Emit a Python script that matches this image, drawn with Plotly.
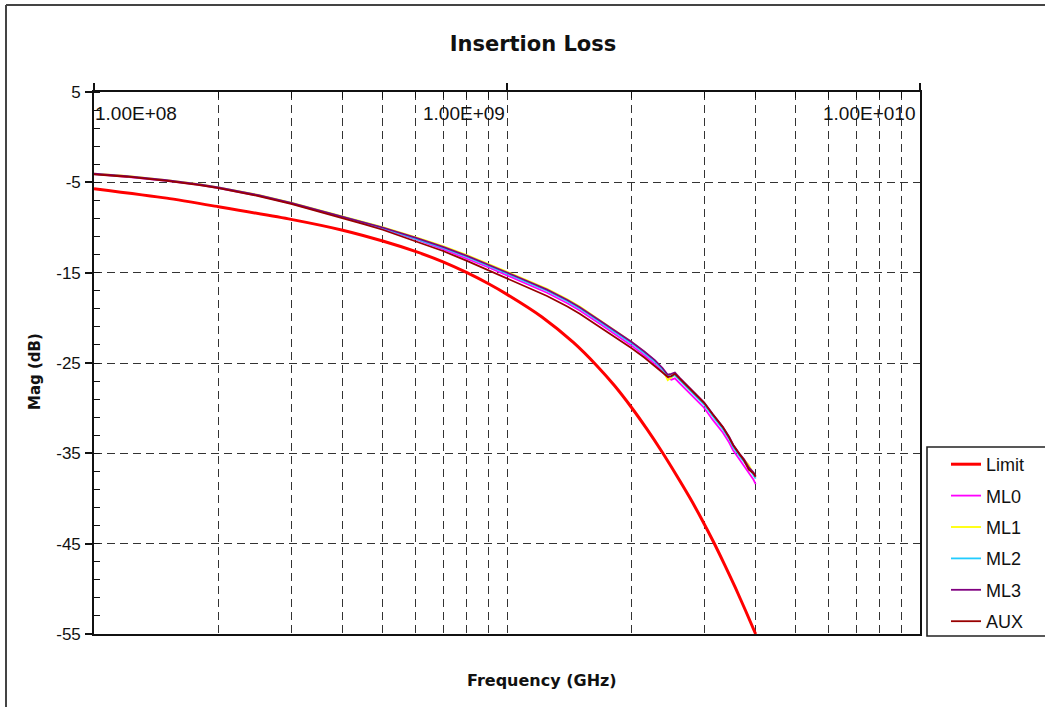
import math
import plotly.graph_objects as go

# ---------------- data ----------------
limit_ghz = [0.10, 0.15, 0.20, 0.30, 0.40, 0.50, 0.60, 0.70, 0.80, 0.90, 1.00,
             1.215, 1.45, 1.65, 1.82, 2.00, 2.18, 2.37, 2.57, 2.77, 2.97, 3.17,
             3.37, 3.57, 3.78, 4.00]
limit_db = [-5.7, -6.75, -7.7, -9.1, -10.3, -11.5, -12.65, -13.8, -15.0, -16.2, -17.4,
            -19.9, -22.75, -25.3, -27.5, -29.9, -32.3, -34.8, -37.4, -39.9, -42.4, -44.9,
            -47.4, -49.85, -52.4, -55.0]

meas_ghz = [0.10, 0.12, 0.15, 0.18, 0.20, 0.25, 0.30, 0.35, 0.40, 0.45, 0.50, 0.60,
            0.70, 0.80, 0.90, 1.00, 1.10, 1.25, 1.40, 1.50, 1.68, 1.85, 2.00, 2.15,
            2.28, 2.38, 2.45, 2.50, 2.55, 2.62, 2.75, 2.90, 3.00, 3.15, 3.33, 3.45,
            3.53, 3.67, 3.75, 3.85, 3.95, 4.00]

ml0_db = [-4.10, -4.38, -4.83, -5.28, -5.63, -6.48, -7.33, -8.13, -8.90, -9.52, -10.12, -11.30,
          -12.40, -13.42, -14.40, -15.30, -16.10, -17.22, -18.38, -19.18, -20.68, -21.95, -23.05, -24.15,
          -25.10, -25.95, -26.60, -26.85, -26.70, -27.25, -28.25, -29.25, -29.95, -31.30, -32.70, -33.80,
          -34.70, -35.80, -36.40, -37.10, -37.90, -38.40]
ml1_db = [-4.05, -4.30, -4.75, -5.20, -5.55, -6.40, -7.25, -8.05, -8.75, -9.35, -9.95, -11.05,
          -12.05, -13.05, -14.00, -14.90, -15.70, -16.80, -17.95, -18.75, -20.25, -21.55, -22.65, -23.75,
          -24.75, -25.65, -26.90, -26.60, -26.30, -26.85, -27.85, -28.80, -29.50, -30.80, -32.20, -33.30,
          -34.20, -35.25, -35.70, -36.30, -37.30, -37.70]
ml2_db = [-4.10, -4.35, -4.80, -5.25, -5.60, -6.45, -7.30, -8.10, -8.85, -9.45, -10.05, -11.20,
          -12.25, -13.25, -14.20, -15.10, -15.90, -17.00, -18.15, -18.95, -20.45, -21.70, -22.80, -23.90,
          -24.85, -25.70, -26.40, -26.50, -26.35, -26.90, -27.90, -28.90, -29.60, -30.90, -32.30, -33.40,
          -34.30, -35.40, -35.90, -36.60, -37.40, -37.80]
ml3_db = [-4.05, -4.32, -4.77, -5.22, -5.57, -6.42, -7.27, -8.07, -8.80, -9.40, -10.00, -11.12,
          -12.15, -13.15, -14.08, -14.98, -15.78, -16.88, -18.02, -18.82, -20.32, -21.58, -22.65, -23.72,
          -24.68, -25.55, -26.30, -26.20, -26.05, -26.65, -27.65, -28.65, -29.35, -30.65, -32.05, -33.15,
          -34.05, -35.15, -35.65, -36.55, -37.10, -37.50]
aux_db = [-4.12, -4.38, -4.85, -5.30, -5.65, -6.52, -7.38, -8.20, -8.98, -9.62, -10.25, -11.48,
          -12.60, -13.70, -14.70, -15.62, -16.45, -17.58, -18.75, -19.55, -21.05, -22.30, -23.35, -24.40,
          -25.30, -26.05, -26.55, -26.45, -26.20, -26.75, -27.70, -28.70, -29.40, -30.70, -32.10, -33.25,
          -34.10, -35.20, -35.80, -36.80, -37.20, -37.60]

series_names = ["Limit", "ML0", "ML1", "ML2", "ML3", "AUX"]
series_colors = ["#FF0000", "#FF00FF", "#FFFF00", "#22CCFF", "#800080", "#990000"]

x_tick_vals = [1e8, 1e9, 1e10]
x_tick_text = ["1.00E+08", "1.00E+09", "1.00E+010"]
x_minor_vals = [2e8, 3e8, 4e8, 5e8, 6e8, 7e8, 8e8, 9e8,
                2e9, 3e9, 4e9, 5e9, 6e9, 7e9, 8e9, 9e9]
y_tick_vals = [5, -5, -15, -25, -35, -45, -55]
y_tick_text = ["5", "-5", "-15", "-25", "-35", "-45", "-55"]

title_text = "Insertion Loss"
x_title = "Frequency (GHz)"
y_title = "Mag (dB)"

# ---------------- figure ----------------
W, H = 1045, 707
L, R, T, B = 94, 125, 92, 73
pw, ph = W - L - R, H - T - B


def px_x(px):
    return (px - L) / pw


def px_y(py):
    return (H - B - py) / ph


fig = go.Figure()
meas_series = [ml0_db, ml1_db, ml2_db, ml3_db, aux_db]

fig.add_trace(go.Scatter(
    x=[f * 1e9 for f in limit_ghz], y=limit_db, name=series_names[0], mode="lines",
    line=dict(color=series_colors[0], width=3, shape="spline", smoothing=0.6),
    legendgroup="g0"))
for i, vals in enumerate(meas_series, start=1):
    fig.add_trace(go.Scatter(
        x=[f * 1e9 for f in meas_ghz], y=vals, name=series_names[i], mode="lines",
        line=dict(color=series_colors[i], width=1.8),
        legendgroup="g%d" % i))

grid_dash = "8px,5px"
fig.update_xaxes(
    type="log", range=[8, 10], side="top",
    tickmode="array", tickvals=x_tick_vals, showticklabels=False,
    ticks="outside", ticklen=7, tickwidth=1.5, tickcolor="#111",
    showgrid=True, gridcolor="#333", gridwidth=1.4, griddash=grid_dash,
    showline=True, linecolor="#111", linewidth=1.6, mirror=True,
    zeroline=False,
    minor=dict(tickmode="array", tickvals=x_minor_vals, ticks="inside", ticklen=6,
               tickwidth=1.4, tickcolor="#111", showgrid=True, gridcolor="#333",
               gridwidth=1.4, griddash=grid_dash),
)
fig.update_yaxes(
    range=[-55, 5], tickmode="array", tickvals=y_tick_vals, ticktext=y_tick_text,
    ticks="outside", ticklen=7, tickwidth=1.5, tickcolor="#111",
    tickfont=dict(family="Liberation Sans", size=17, color="#111"),
    ticklabelstandoff=1,
    showgrid=True, gridcolor="#333", gridwidth=1.4, griddash=grid_dash,
    showline=True, linecolor="#111", linewidth=1.6, mirror=True,
    zeroline=False,
    minor=dict(tick0=5, dtick=2, ticks="inside", ticklen=6, tickwidth=1.4,
               tickcolor="#111", showgrid=False),
)

annotations = []
x_anchor = ["left", "right", "right"]
x_shift = [-1, 0, -3]
for v, t, a, s in zip(x_tick_vals, x_tick_text, x_anchor, x_shift):
    annotations.append(dict(
        x=math.log10(v), xref="x", y=px_y(113), yref="paper", text=t,
        xanchor=a, yanchor="middle", xshift=s, showarrow=False,
        font=dict(family="Liberation Sans", size=19, color="#111")))
annotations.append(dict(
    x=px_x(542), y=px_y(680), xref="paper", yref="paper", text="<b>%s</b>" % x_title,
    showarrow=False, xanchor="center", yanchor="middle",
    font=dict(family="DejaVu Sans", size=16, color="#111")))
annotations.append(dict(
    x=px_x(35), y=px_y(372), xref="paper", yref="paper", text="<b>%s</b>" % y_title,
    showarrow=False, xanchor="center", yanchor="middle", textangle=-90,
    font=dict(family="DejaVu Sans", size=15, color="#111")))

shapes = [
    dict(type="line", xref="paper", yref="paper", x0=px_x(6), x1=px_x(6),
         y0=px_y(720), y1=px_y(5), line=dict(color="#444", width=2)),
    dict(type="line", xref="paper", yref="paper", x0=px_x(6), x1=px_x(1060),
         y0=px_y(5), y1=px_y(5), line=dict(color="#444", width=2)),
    # legend frame (extends past the right edge as in the reference)
    dict(type="rect", xref="paper", yref="paper", x0=px_x(927), x1=px_x(1070),
         y0=px_y(636), y1=px_y(447), line=dict(color="#222", width=1.6),
         fillcolor="white", layer="above"),
]

fig.update_layout(
    width=W, height=H,
    margin=dict(l=L, r=R, t=T, b=B),
    paper_bgcolor="white", plot_bgcolor="white",
    title=dict(text="<b>%s</b>" % title_text, xref="container", yref="container",
               x=533 / W, y=1 - 44 / H, xanchor="center", yanchor="middle",
               font=dict(family="DejaVu Sans", size=21, color="#111")),
    font=dict(family="Liberation Sans", size=16, color="#111"),
    showlegend=True,
    legend=dict(xref="container", yref="container", x=946 / W, y=1 - 446 / H,
                xanchor="left", yanchor="top", bgcolor="rgba(0,0,0,0)",
                borderwidth=0,
                font=dict(family="Liberation Sans", size=18, color="#111"),
                traceorder="grouped", tracegroupgap=5, itemwidth=30),
    annotations=annotations,
    shapes=shapes,
)

fig.write_html("out.html")
